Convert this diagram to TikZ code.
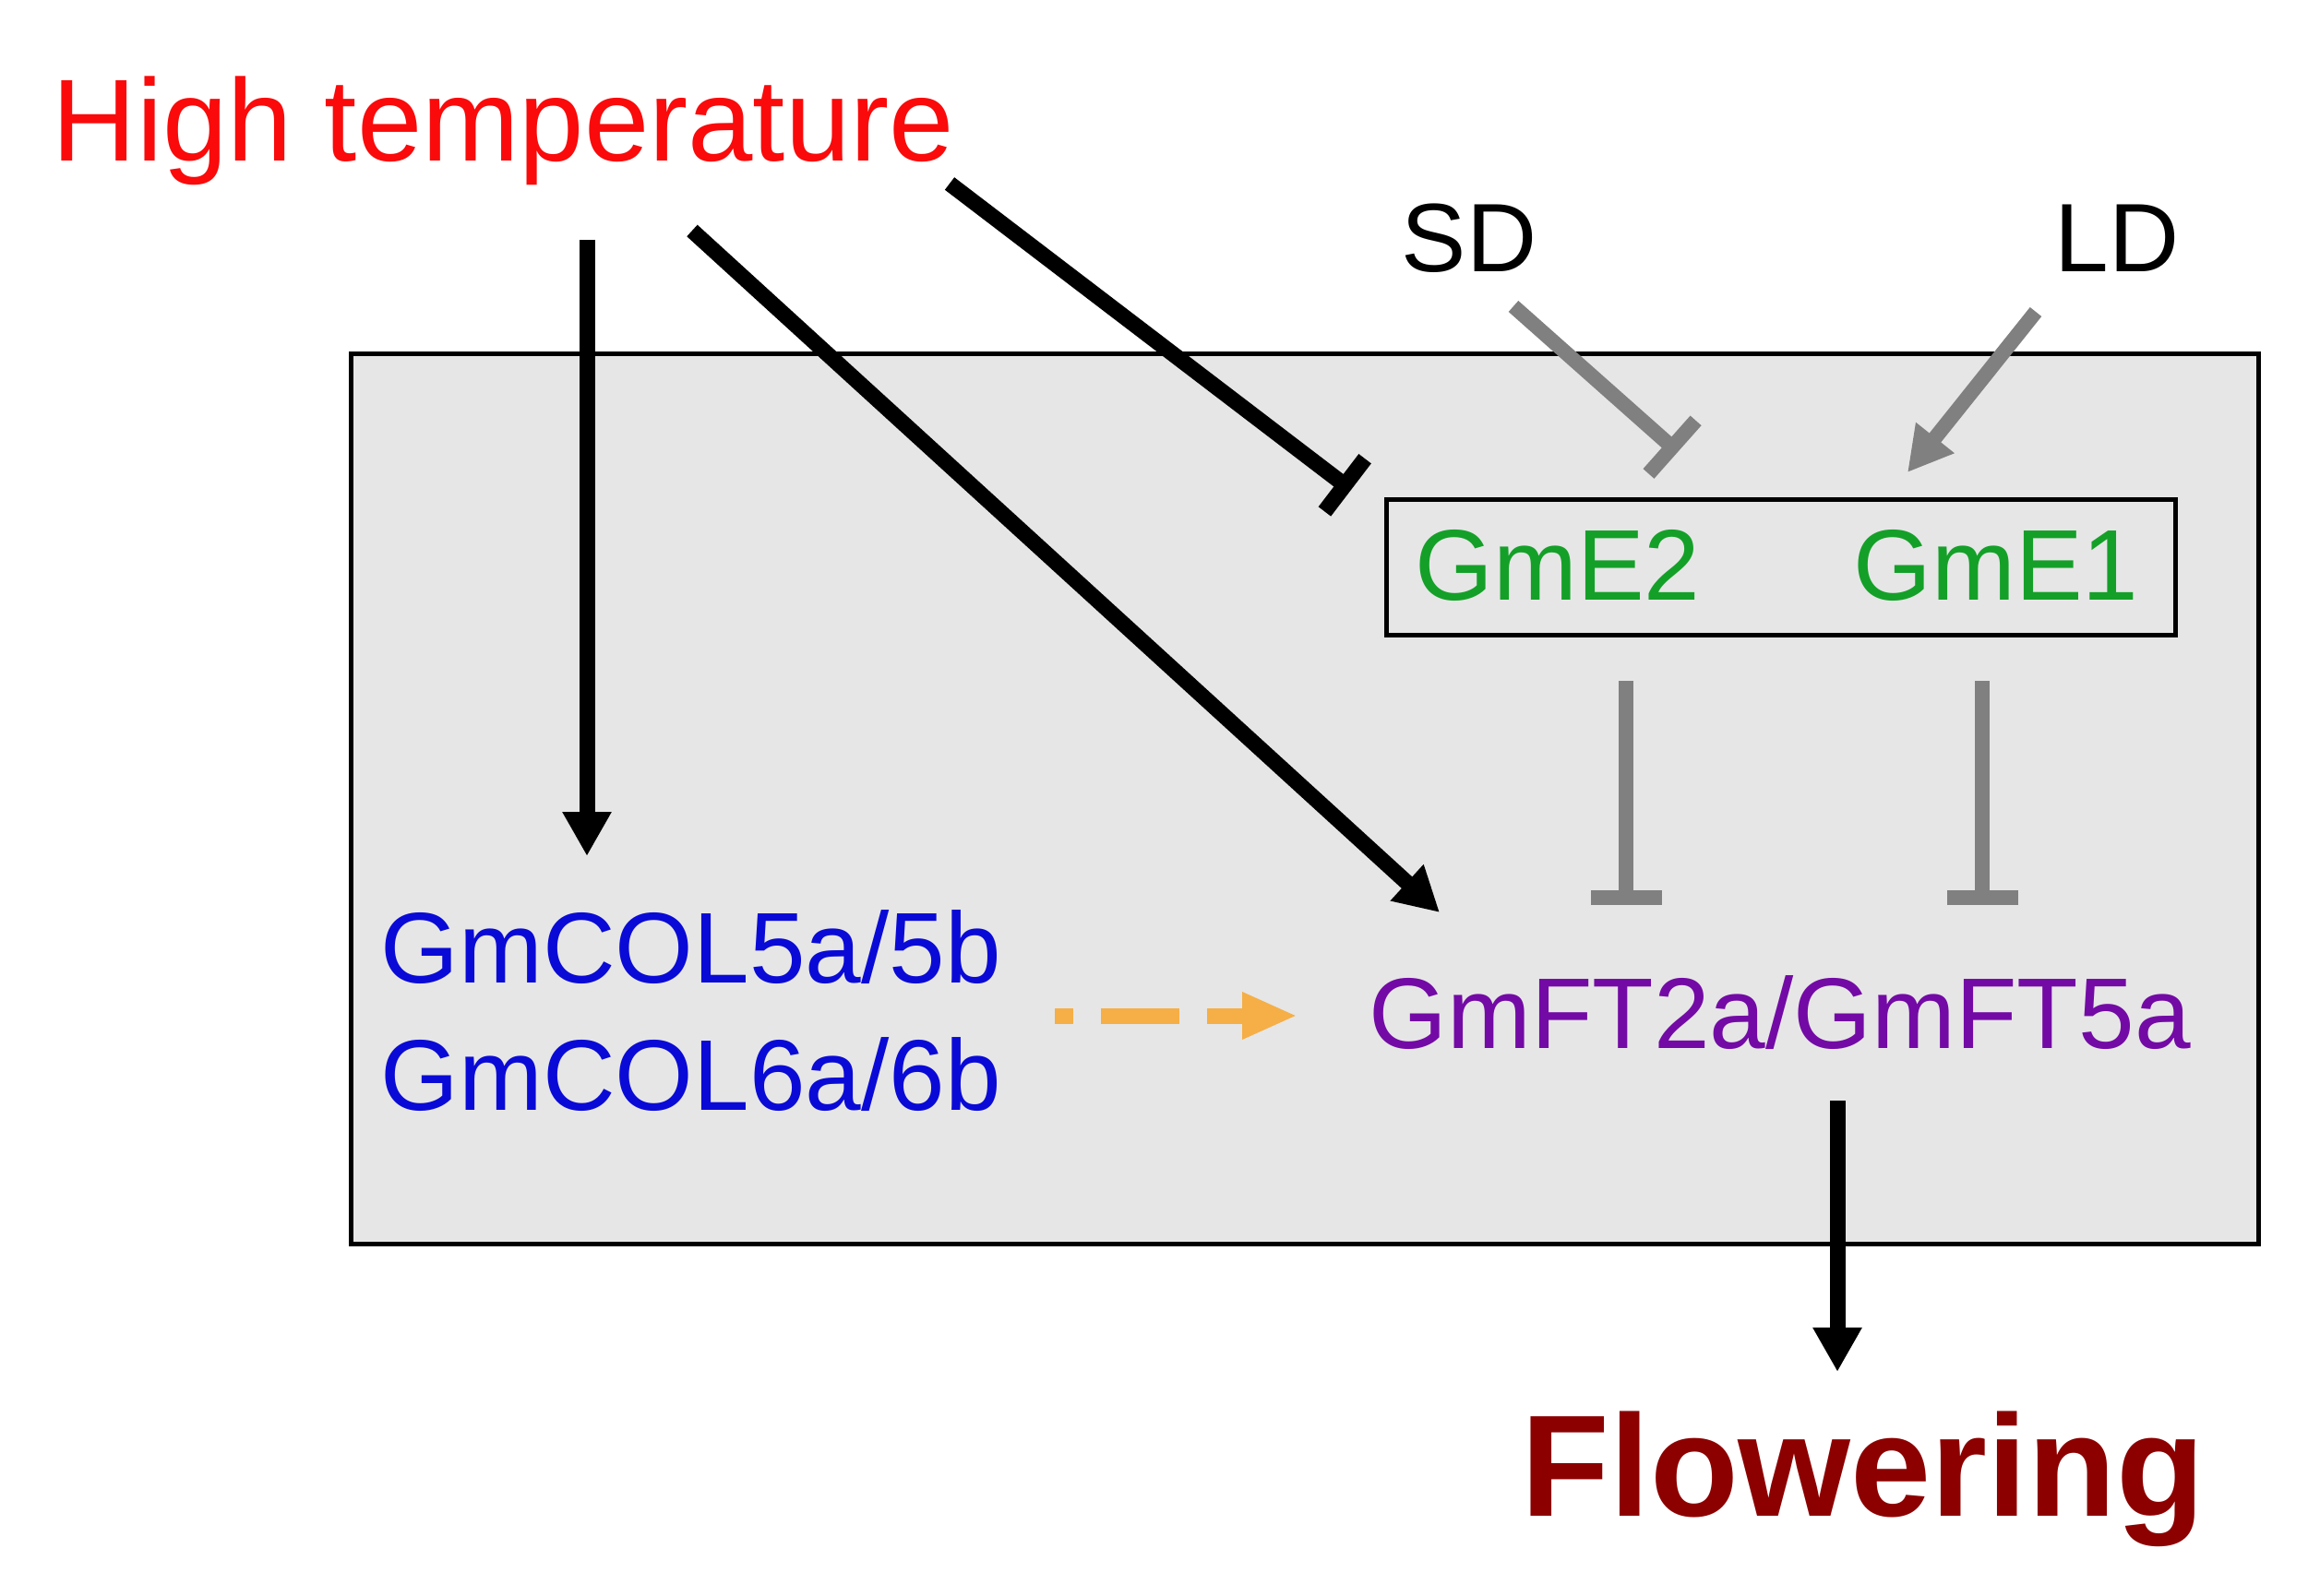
\documentclass[tikz,border=0pt]{standalone}
\usepackage{fontspec}
\setmainfont{Liberation Sans}
\usetikzlibrary{arrows.meta,positioning}
\definecolor{hotred}{RGB}{250,10,10}
\definecolor{egreen}{RGB}{20,160,40}
\definecolor{colblue}{RGB}{10,10,215}
\definecolor{ftpurple}{RGB}{115,10,165}
\definecolor{flowred}{RGB}{140,0,0}
\definecolor{panelgray}{RGB}{230,230,230}
\definecolor{dashorange}{RGB}{245,175,70}

\begin{document}
\begin{tikzpicture}[every node/.style={inner sep=0pt},
    gene/.style={font=\fontsize{31}{37}\selectfont},
    act/.style={-{Triangle[length=4.8mm,width=5mm]}, line width=1.7mm, black},
    blk/.style={-{Bar[width=7.2mm]}, line width=1.7mm, black},
    gact/.style={-{Triangle[length=4.8mm,width=5mm]}, line width=1.6mm, gray},
    ginh/.style={-{Bar[width=7.7mm]}, line width=1.6mm, gray}]
\useasboundingbox (0,0) rectangle (25.01,-17.30);

% ==== shaded panel ====
\node[draw, line width=0.5mm, fill=panelgray, minimum width=20.67cm, minimum height=9.64cm]
    (panel) at (14.135,-8.66) {};

% ==== signals ====
\node[anchor=base west, font=\fontsize{36}{43}\selectfont, text=hotred]
    (ht) at (0.56,-1.75) {High temperature};
\node[anchor=base, font=\fontsize{30}{36}\selectfont] (sd) at (15.92,-2.95) {SD};
\node[anchor=base, font=\fontsize{30}{36}\selectfont] (ld) at (22.94,-2.95) {LD};

% ==== genes ====
\node[draw, line width=0.5mm, minimum width=8.55cm, minimum height=1.47cm]
    (ebox) at (19.295,-6.155) {};
\node[gene, anchor=base, text=egreen] (e2) at (16.88,-6.51) {GmE2};
\node[gene, anchor=base, text=egreen] (e1) at (21.63,-6.51) {GmE1};
\node[gene, anchor=base west, text=colblue] (col5) at (4.12,-10.65) {GmCOL5a/5b};
\node[gene, anchor=base west, text=colblue] (col6) at (4.12,-12.03) {GmCOL6a/6b};
\node[gene, anchor=base west, text=ftpurple] (ft) at (14.83,-11.36) {GmFT2a/GmFT5a};
\node[anchor=base west, font=\bfseries\fontsize{44.6}{52}\selectfont, text=flowred]
    (fl) at (16.48,-16.43) {Flowering};

% ==== connector ends ====
\coordinate (htA) at (6.36,-2.60);
\coordinate (htB) at (7.50,-2.50);
\coordinate (htC) at (10.29,-1.99);
\coordinate (colTop) at (6.36,-9.28);
\coordinate (ftTip) at (15.60,-9.89);
\coordinate (eBar) at (14.64,-5.31);
\coordinate (sdA) at (16.40,-3.32);
\coordinate (sdB) at (18.18,-4.90);
\coordinate (ldA) at (22.06,-3.38);
\coordinate (ldB) at (20.67,-5.12);
\coordinate (e2A) at (17.62,-7.38);
\coordinate (e2B) at (17.62,-9.81);
\coordinate (e1A) at (21.48,-7.38);
\coordinate (e1B) at (21.48,-9.81);
\coordinate (oA) at (11.43,-11.01);
\coordinate (oB) at (14.06,-11.01);
\coordinate (flA) at (19.91,-11.93);
\coordinate (flB) at (19.91,-14.87);

% ==== connectors ====
\draw[act] (htA) -- (colTop);
\draw[act] (htB) -- (ftTip);
\draw[blk] (htC) -- (eBar);
\draw[ginh] (sdA) -- (sdB);
\draw[gact] (ldA) -- (ldB);
\draw[ginh] (e2A) -- (e2B);
\draw[ginh] (e1A) -- (e1B);
\draw[-{Triangle[length=6mm,width=4.7mm]}, line width=1.7mm, dashorange,
    dash pattern=on 8.5mm off 3mm, dash phase=6.5mm] (oA) -- (oB);
\draw[act] (flA) -- (flB);
\end{tikzpicture}
\end{document}
